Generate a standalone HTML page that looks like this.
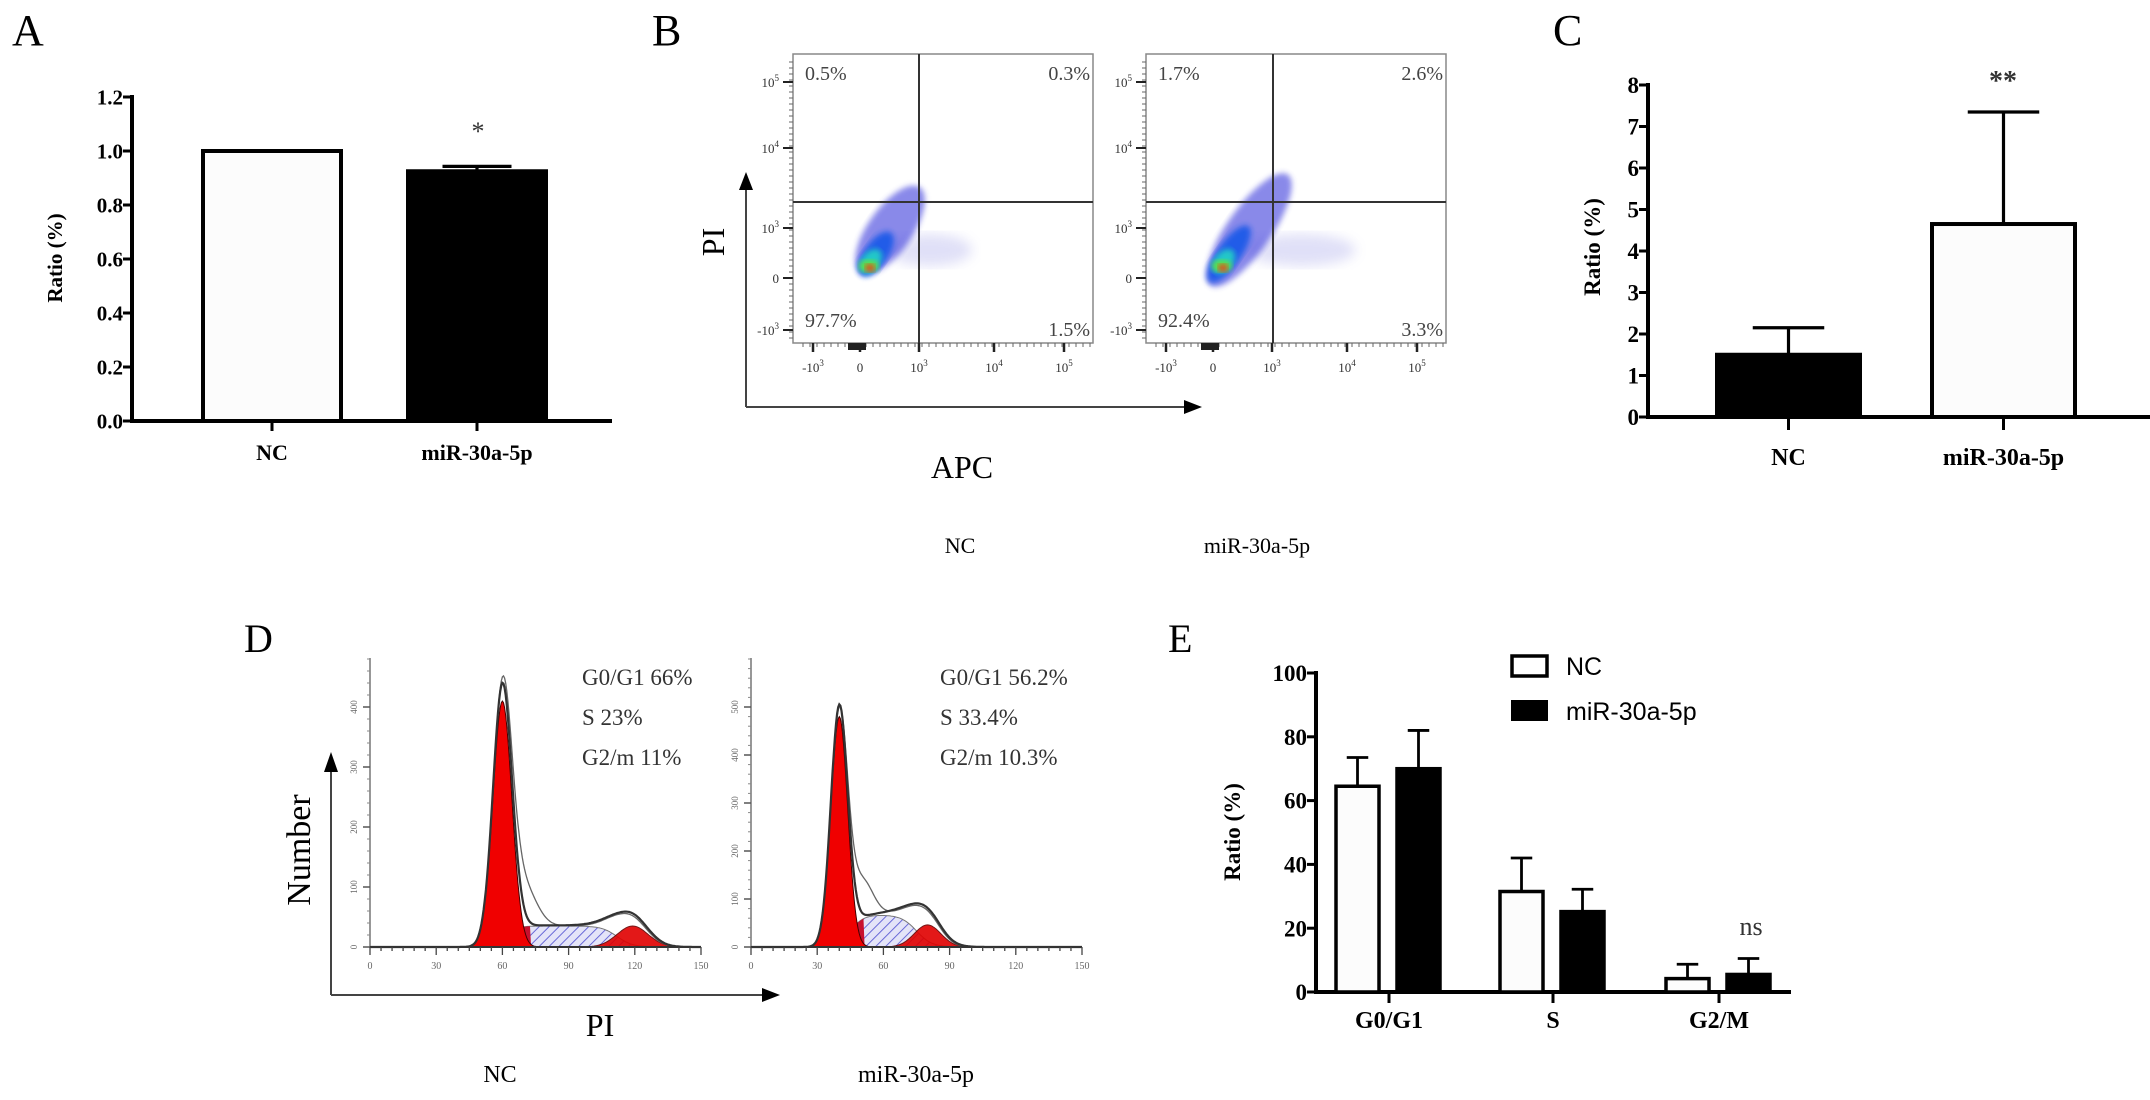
<!DOCTYPE html>
<html><head><meta charset="utf-8"><style>
html,body{margin:0;padding:0;background:#fff}
svg{display:block}
text{font-family:"Liberation Serif",serif}
.b{font-weight:bold}
.sans{font-family:"Liberation Sans",sans-serif}
</style></head><body>
<svg id="fig" width="2150" height="1100" viewBox="0 0 2150 1100" xmlns="http://www.w3.org/2000/svg">
<defs>
<pattern id="hatch" width="7" height="7" patternUnits="userSpaceOnUse" patternTransform="rotate(45)">
<rect width="7" height="7" fill="#e4e4f8"/><line x1="0" y1="0" x2="0" y2="7" stroke="#6a6ad8" stroke-width="2"/>
</pattern>
<filter id="blur3"><feGaussianBlur stdDeviation="3"/></filter>
<filter id="blur6"><feGaussianBlur stdDeviation="6"/></filter>
</defs>

<text x="12" y="45" font-size="44">A</text>
<text x="652" y="45" font-size="44">B</text>
<text x="1553" y="45" font-size="44">C</text>
<text x="244" y="652" font-size="40">D</text>
<text x="1168" y="652" font-size="40">E</text>

<g id="panelA"></g>
<g id="panelB"></g>
<g id="panelC"></g>
<g id="panelD"></g>
<g id="panelE"></g>
</svg>
<script>
const aCategories = ["NC", "miR-30a-5p"];
const aValues = [1.0, 0.925];
const aErrors = [0, 0.018];
const aTicks = ["0.0","0.2","0.4","0.6","0.8","1.0","1.2"];

const cCategories = ["NC", "miR-30a-5p"];
const cValues = [1.5, 4.65];
const cErrors = [0.65, 2.7];
const cTicks = ["0","1","2","3","4","5","6","7","8"];

const eCategories = ["G0/G1", "S", "G2/M"];
const eNC = [64.5, 31.5, 4.2];
const eNCerr = [9, 10.5, 4.5];
const eMiR = [70, 25.2, 5.5];
const eMiRerr = [12, 7, 5];
const eTicks = ["0","20","40","60","80","100"];

const bQuadNC = ["0.5%","0.3%","97.7%","1.5%"];
const bQuadMiR = ["1.7%","2.6%","92.4%","3.3%"];

const dG1 = [[60, 4.3, 410], [40, 3.8, 480]];
const dG2 = [[119, 7, 35], [80, 6, 46]];
const dS = [[60, 112, 35], [45, 75, 67]];
const dShoulder = [[69, 6, 70], [50, 5, 80]];
const dPhaseText = [["G0/G1 66%","S  23%","G2/m  11%"],["G0/G1 56.2%","S  33.4%","G2/m  10.3%"]];
const dYTicks = [[0,100,200,300,400],[0,100,200,300,400,500]];
const dXTicks = [0,30,60,90,120,150];

const NS = "http://www.w3.org/2000/svg";
function el(parent, tag, attrs, txt){
  const e = document.createElementNS(NS, tag);
  for (const k in attrs) e.setAttribute(k, attrs[k]);
  if (txt !== undefined) e.textContent = txt;
  parent.appendChild(e);
  return e;
}

function barAxes(g, cfg){
  const y = v => cfg.y0 - v * cfg.pxPer;
  let ax = el(g, "line", {x1:cfg.ax, y1:y(cfg.max)-2, x2:cfg.ax, y2:cfg.y0+2, stroke:"#000","stroke-width":4});
  
  
  let xa = el(g, "line", {x1:cfg.ax, y1:cfg.y0, x2:cfg.xEnd, y2:cfg.y0, stroke:"#000","stroke-width":4});
  
  
  cfg.ticks.forEach((t,i)=>{
    const v = cfg.tickStep * i;
    el(g, "line", {x1:cfg.ax-9, y1:y(v), x2:cfg.ax, y2:y(v), stroke:"#000","stroke-width":3});
    const tt = el(g, "text", {x:cfg.ax-9, y:y(v)+cfg.fs*0.35, "font-size":cfg.fs, "text-anchor":"end", class:"b"}, t);
    
    
  });
  const yl = el(g, "text", {x:0, y:0, "font-size":cfg.fs, "text-anchor":"middle", class:"b",
    transform:`translate(${cfg.ylx},${cfg.yly}) rotate(-90)`}, "Ratio (%)");
  
  
  return y;
}
function bar(g, x, w, v, err, fill, y, y0, sw, name){
  const r = el(g, "rect", {x:x, y:y(v), width:w, height:y0 - y(v), fill:fill, stroke:"#000", "stroke-width":sw});
  
  
  if (err > 0){
    const cx = x + w/2;
    el(g, "line", {x1:cx, y1:y(v), x2:cx, y2:y(v+err), stroke:"#000", "stroke-width":sw*0.8});
    const cap = el(g, "line", {x1:cx - w/4, y1:y(v+err), x2:cx + w/4, y2:y(v+err), stroke:"#000", "stroke-width":sw*0.8});
    
    
  }
}

(function(){
  const g = document.getElementById("panelA");
  const cfg = {ax:132, y0:421, pxPer:270, max:1.2, xEnd:612, ticks:aTicks, tickStep:0.2, fs:21, ylx:62, yly:258};
  const y = barAxes(g, cfg);
  const xs = [203, 408], w = 138, fills = ["#fcfcfc","#000"];
  aCategories.forEach((c,i)=>{
    bar(g, xs[i], w, aValues[i], aErrors[i], fills[i], y, 421, 4, "bar-a-" + i);
    el(g, "line", {x1:xs[i]+w/2, y1:421, x2:xs[i]+w/2, y2:431, stroke:"#000","stroke-width":3});
    const t = el(g, "text", {x:xs[i]+w/2, y:460, "font-size":22, "text-anchor":"middle", class:"b"}, c);
    
    
  });
  const s = el(g, "text", {x:478, y:140, "font-size":26, "text-anchor":"middle", fill:"#333"}, "*");
  
  
})();

(function(){
  const g = document.getElementById("panelC");
  const cfg = {ax:1648, y0:417, pxPer:41.5, max:8, xEnd:2150, ticks:cTicks, tickStep:1, fs:23, ylx:1600, yly:247};
  const y = barAxes(g, cfg);
  const xs = [1717, 1932], w = 143, fills = ["#000","#fcfcfc"];
  cCategories.forEach((c,i)=>{
    bar(g, xs[i], w, cValues[i], cErrors[i], fills[i], y, 417, 4, "bar-c-" + i);
    el(g, "line", {x1:xs[i]+w/2, y1:417, x2:xs[i]+w/2, y2:430, stroke:"#000","stroke-width":3});
    const t = el(g, "text", {x:xs[i]+w/2, y:465, "font-size":24, "text-anchor":"middle", class:"b"}, c);
    
    
  });
  const s = el(g, "text", {x:2003, y:90, "font-size":28, "text-anchor":"middle", fill:"#333", class:"b"}, "**");
  
  
})();

(function(){
  const g = document.getElementById("panelE");
  const cfg = {ax:1316, y0:992, pxPer:3.19, max:100, xEnd:1791, ticks:eTicks, tickStep:20, fs:23, ylx:1240, yly:832};
  const y = barAxes(g, cfg);
  const centers = [1389, 1553, 1719], w = 43;
  eCategories.forEach((c,i)=>{
    bar(g, centers[i]-53, w, eNC[i], eNCerr[i], "#fcfcfc", y, 992, 3.5, "bar-e-nc-" + i);
    bar(g, centers[i]+8, w, eMiR[i], eMiRerr[i], "#000", y, 992, 3.5, "bar-e-mir-" + i);
    el(g, "line", {x1:centers[i], y1:992, x2:centers[i], y2:1003, stroke:"#000","stroke-width":3});
    const t = el(g, "text", {x:centers[i], y:1028, "font-size":24, "text-anchor":"middle", class:"b"}, c);
    
    
  });
  const ns = el(g, "text", {x:1751, y:935, "font-size":26, "text-anchor":"middle", fill:"#333"}, "ns");
  
  
  const l1 = el(g, "rect", {x:1512, y:656, width:35, height:20, fill:"#fff", stroke:"#000","stroke-width":3.5});
  
  
  const l2 = el(g, "rect", {x:1511, y:700, width:37, height:21, fill:"#000"});
  
  
  const t1 = el(g, "text", {x:1566, y:675, "font-size":25, class:"sans"}, "NC");
  
  
  const t2 = el(g, "text", {x:1566, y:720, "font-size":25, class:"sans"}, "miR-30a-5p");
  
  
})();

(function(){
  const g = document.getElementById("panelB");
  const plots = [{x:793, quads:bQuadNC, cx:870, cy:268, vx:919},{x:1146, quads:bQuadMiR, cx:1223, cy:268, vx:1273}];
  const top = 54, bot = 343, W = 300, hy = 202;
  const yT = [[82,"10","5"],[148,"10","4"],[228,"10","3"],[278,"0",""],[330,"-10","3"]];
  plots.forEach((p,pi)=>{
    const pg = el(g, "g", {});
    
    
    const cl = el(pg, "g", {});
    const s = pi === 0 ? 1 : 1.3;
    el(cl, "ellipse", {cx:p.cx+60*s, cy:p.cy-18, rx:42*s, ry:16, fill:"#9a9ae6", opacity:0.3, filter:"url(#blur6)"});
    el(cl, "ellipse", {cx:p.cx+20*s, cy:p.cy-38, rx:52*s, ry:22, fill:"#3a3adc", opacity:0.6, filter:"url(#blur3)", transform:`rotate(-55 ${p.cx+20*s} ${p.cy-38})`});
    el(cl, "ellipse", {cx:p.cx+6, cy:p.cy-14, rx:26*s, ry:12, fill:"#1e5ae8", opacity:0.95, filter:"url(#blur3)", transform:`rotate(-55 ${p.cx+6} ${p.cy-14})`});
    el(cl, "ellipse", {cx:p.cx+1, cy:p.cy-6, rx:14, ry:9, fill:"#20c8c8", filter:"url(#blur3)", transform:`rotate(-50 ${p.cx} ${p.cy-6})`});
    el(cl, "ellipse", {cx:p.cx-1, cy:p.cy-2, rx:10, ry:6, fill:"#60e040", filter:"url(#blur3)"});
    el(cl, "ellipse", {cx:p.cx, cy:p.cy, rx:5, ry:4, fill:"#e84020", filter:"url(#blur3)"});
    el(pg, "rect", {x:p.x, y:top, width:W, height:bot-top, fill:"none", stroke:"#888","stroke-width":1.5});
    el(pg, "line", {x1:p.vx, y1:top, x2:p.vx, y2:bot, stroke:"#333","stroke-width":2});
    el(pg, "line", {x1:p.x, y1:hy, x2:p.x+W, y2:hy, stroke:"#333","stroke-width":2});
    const q = [[p.x+12, 80, "start"],[p.x+W-3, 80, "end"],[p.x+12, 327, "start"],[p.x+W-3, 336, "end"]];
    q.forEach((qq,i)=>{
      const t = el(pg, "text", {x:qq[0], y:qq[1], "font-size":20, fill:"#444", "text-anchor":qq[2]}, p.quads[i]);
      
      
    });
    for (let yy = 62; yy < 340; yy += 6) el(pg, "line", {x1:p.x-4, y1:yy, x2:p.x, y2:yy, stroke:"#666","stroke-width":1});
    yT.forEach(t=>{
      el(pg, "line", {x1:p.x-10, y1:t[0], x2:p.x, y2:t[0], stroke:"#222","stroke-width":2});
      const tx = el(pg, "text", {x:p.x-14, y:t[0]+5, "font-size":13, "text-anchor":"end", fill:"#333"});
      tx.appendChild(document.createTextNode(t[1]));
      if (t[2]) el(tx, "tspan", {dy:-6, "font-size":9}, t[2]);
      
      
    });
    const xT = [[20,"-10","3"],[67,"0",""],[126,"10","3"],[201,"10","4"],[271,"10","5"]];
    for (let xx = p.x+10; xx < p.x+W; xx += 7) el(pg, "line", {x1:xx, y1:bot, x2:xx, y2:bot+4, stroke:"#666","stroke-width":1});
    el(pg, "rect", {x:p.x+55, y:bot, width:18, height:7, fill:"#222"});
    xT.forEach(t=>{
      el(pg, "line", {x1:p.x+t[0], y1:bot, x2:p.x+t[0], y2:bot+9, stroke:"#222","stroke-width":2.5});
      const tx = el(pg, "text", {x:p.x+t[0], y:372, "font-size":13, "text-anchor":"middle", fill:"#333"});
      tx.appendChild(document.createTextNode(t[1]));
      if (t[2]) el(tx, "tspan", {dy:-6, "font-size":9}, t[2]);
      
      
    });
  });
  el(g, "line", {x1:746, y1:407, x2:746, y2:185, stroke:"#444","stroke-width":2});
  el(g, "polygon", {points:"739,190 753,190 746,172", fill:"#000"});
  el(g, "line", {x1:746, y1:407, x2:1188, y2:407, stroke:"#444","stroke-width":2});
  el(g, "polygon", {points:"1184,400 1184,414 1202,407", fill:"#000"});
  const pl = el(g, "text", {x:0, y:0, "font-size":32, "text-anchor":"middle", transform:"translate(724,242) rotate(-90)"}, "PI");
  
  
  const ap = el(g, "text", {x:962, y:478, "font-size":32, "text-anchor":"middle"}, "APC");
  
  
  const n1 = el(g, "text", {x:960, y:553, "font-size":22, "text-anchor":"middle"}, "NC");
  
  
  const n2 = el(g, "text", {x:1257, y:553, "font-size":22, "text-anchor":"middle"}, "miR-30a-5p");
  
  
})();

(function(){
  const g = document.getElementById("panelD");
  const base = 947;
  const panels = [{x0:370, pxU:0.6, top:658}, {x0:751, pxU:0.48, top:658}];
  const gauss = (x,p) => p[2]*Math.exp(-((x-p[0])**2)/(2*p[1]*p[1]));
  const sig = z => 1/(1+Math.exp(-z));
  const plateau = (x,p) => p[2]*sig((x-p[0])/3)*sig((p[1]-x)/3.5);
  panels.forEach((P,pi)=>{
    const X = c => P.x0 + c*331/150;
    const Y = v => base - v*P.pxU;
    const pg = el(g, "g", {});
    
    
    const path = f => { let d = `M${X(0)},${base}`; for (let c=0;c<=150;c+=0.5) d += ` L${X(c).toFixed(1)},${Y(f(c)).toFixed(1)}`; return d + ` L${X(150)},${base} Z`; };
    const S = c => plateau(c, dS[pi]);
    let sp = el(pg, "path", {d:path(S), fill:"url(#hatch)", stroke:"#777", "stroke-width":1});
    
    
    el(pg, "path", {d:path(c => c < dG1[pi][0]+3*dG1[pi][1] ? S(c) : 0), fill:"#c8102e"});
    let g2 = el(pg, "path", {d:path(c => gauss(c, dG2[pi])), fill:"#e00000", opacity:0.9, stroke:"#600", "stroke-width":1});
    
    
    let g1 = el(pg, "path", {d:path(c => gauss(c, dG1[pi])), fill:"#f00000", stroke:"#400", "stroke-width":1});
    
    
    const fit = c => gauss(c,dG1[pi]) + gauss(c,dG2[pi]) + S(c);
    let d = "", d2 = "";
    for (let c=0;c<=150;c+=0.5){
      d += (c?" L":"M") + X(c).toFixed(1) + "," + Y(fit(c)*1.03 + gauss(c,[dG2[pi][0]-4,9,dG2[pi][2]*0.5])).toFixed(1);
      d2 += (c?" L":"M") + X(c).toFixed(1) + "," + Y(fit(c) + gauss(c,dShoulder[pi]) + gauss(c,[dG2[pi][0]-5,8,dG2[pi][2]*0.45])).toFixed(1);
    }
    el(pg, "path", {d:d2, fill:"none", stroke:"#666", "stroke-width":1.3});
    let fl = el(pg, "path", {d:d, fill:"none", stroke:"#333", "stroke-width":2.2});
    
    
    el(pg, "line", {x1:P.x0, y1:P.top, x2:P.x0, y2:base, stroke:"#777", "stroke-width":1.5});
    el(pg, "line", {x1:P.x0, y1:base, x2:X(150), y2:base, stroke:"#333", "stroke-width":2});
    for (let v=0; Y(v) > P.top; v+=20) el(pg, "line", {x1:P.x0-3, y1:Y(v), x2:P.x0, y2:Y(v), stroke:"#888","stroke-width":1});
    dYTicks[pi].forEach(v=>{
      el(pg, "line", {x1:P.x0-7, y1:Y(v), x2:P.x0, y2:Y(v), stroke:"#555","stroke-width":1.5});
      const t = el(pg, "text", {x:0, y:0, "font-size":9, fill:"#666", "text-anchor":"middle", transform:`translate(${P.x0-13},${Y(v)}) rotate(-90)`}, v);
      
      
    });
    for (let c=0;c<=150;c+=5) el(pg, "line", {x1:X(c), y1:base, x2:X(c), y2:base+(c%30?4:8), stroke:"#444","stroke-width":1.3});
    dXTicks.forEach(c=>{
      const t = el(pg, "text", {x:X(c), y:base+22, "font-size":10, fill:"#666", "text-anchor":"middle"}, c);
      
      
    });
    dPhaseText[pi].forEach((s,i)=>{
      const t = el(pg, "text", {x:pi?940:582, y:685+i*40, "font-size":23, fill:"#333", "xml:space":"preserve"}, s);
      
      
    });
  });
  el(g, "line", {x1:331, y1:995, x2:331, y2:768, stroke:"#444","stroke-width":2});
  el(g, "polygon", {points:"324,772 338,772 331,752", fill:"#000"});
  el(g, "line", {x1:331, y1:995, x2:765, y2:995, stroke:"#444","stroke-width":2});
  el(g, "polygon", {points:"762,988 762,1002 780,995", fill:"#000"});
  const nl = el(g, "text", {x:0, y:0, "font-size":34, "text-anchor":"middle", transform:"translate(310,850) rotate(-90)"}, "Number");
  
  
  const pil = el(g, "text", {x:600, y:1036, "font-size":32, "text-anchor":"middle"}, "PI");
  
  
  const a = el(g, "text", {x:500, y:1082, "font-size":24, "text-anchor":"middle"}, "NC");
  
  
  const b = el(g, "text", {x:916, y:1082, "font-size":24, "text-anchor":"middle"}, "miR-30a-5p");
  
  
})();
</script>
</body></html>
